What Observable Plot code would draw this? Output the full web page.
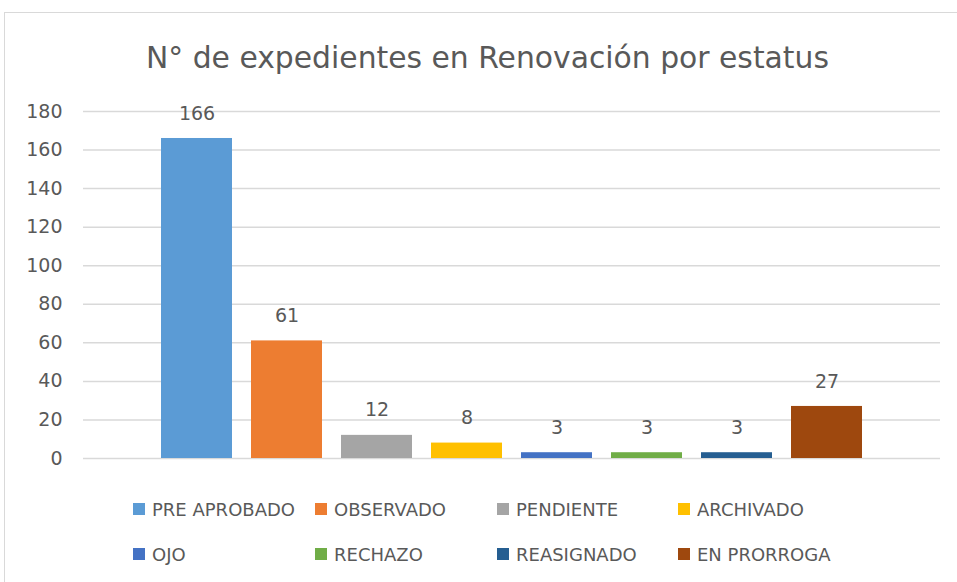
<!DOCTYPE html>
<html>
<head>
<meta charset="utf-8">
<script src="https://cdn.jsdelivr.net/npm/d3@7"></script>
<script src="https://cdn.jsdelivr.net/npm/@observablehq/plot@0.6"></script>
<style>
  html, body { margin: 0; padding: 0; background: #fff; width: 957px; height: 582px; overflow: hidden; }
  #wrap { position: relative; width: 957px; height: 582px; font-family: "DejaVu Sans", sans-serif; }
  #frame { position: absolute; left: 4px; top: 12px; width: 1000px; height: 600px; border-left: 1.5px solid #d9d9d9; border-top: 1.5px solid #d9d9d9; }
  #title { position: absolute; left: 0; width: 975px; top: 43px; line-height: 30px; text-align: center; font-size: 29.8px; color: #595959; white-space: nowrap; }
  #chart { position: absolute; left: 0; top: 90px; }
  .leg { position: absolute; display: flex; align-items: center; font-size: 18px; color: #595959; white-space: nowrap; }
  .leg .sw { width: 12px; height: 12px; margin-right: 7px; }
</style>
</head>
<body>
<div id="wrap">
  <div id="frame"></div>
  <div id="title">N° de expedientes en Renovación por estatus</div>
  <div id="chart"></div>
  <div id="legend"></div>
</div>
<script>
const categories = ["PRE APROBADO", "OBSERVADO", "PENDIENTE", "ARCHIVADO", "OJO", "RECHAZO", "REASIGNADO", "EN PRORROGA"];
const values = [166, 61, 12, 8, 3, 3, 3, 27];
const colors = ["#5B9BD5", "#ED7D31", "#A5A5A5", "#FFC000", "#4472C4", "#70AD47", "#255E91", "#9E480E"];
const yTicks = [0, 20, 40, 60, 80, 100, 120, 140, 160, 180];

const data = categories.map((c, i) => ({category: c, value: values[i]}));

const chart = Plot.plot({
  width: 957,
  height: 380,
  marginTop: 21,
  marginBottom: 12,
  marginLeft: 83,
  marginRight: 17,
  style: {fontFamily: "DejaVu Sans, sans-serif", background: "transparent", overflow: "visible"},
  x: {domain: categories, paddingInner: 0.21, paddingOuter: 0.866, axis: null},
  y: {domain: [0, 180], ticks: yTicks},
  color: {domain: categories, range: colors},
  marks: [
    Plot.gridY(yTicks, {stroke: "#d9d9d9", strokeOpacity: 1, strokeWidth: 1.5}),
    Plot.axisY(yTicks, {tickSize: 0, tickPadding: 21, fontSize: 19, fill: "#595959", label: null}),
    Plot.barY(data, {x: "category", y: "value", fill: "category"}),
    Plot.text(data, {x: "category", y: "value", text: d => String(d.value), dy: -25, fontSize: 19, fill: "#595959"})
  ]
});
document.getElementById("chart").appendChild(chart);

const legendX = [133, 315, 497, 678];
const legendY = [509, 554];
const legend = document.getElementById("legend");
categories.forEach((c, i) => {
  const el = document.createElement("div");
  el.className = "leg";
  el.style.left = legendX[i % 4] + "px";
  el.style.top = (legendY[Math.floor(i / 4)] - 12) + "px";
  el.style.height = "24px";
  const sw = document.createElement("span");
  sw.className = "sw";
  sw.style.background = colors[i];
  el.appendChild(sw);
  el.appendChild(document.createTextNode(c));
  legend.appendChild(el);
});
</script>
</body>
</html>
